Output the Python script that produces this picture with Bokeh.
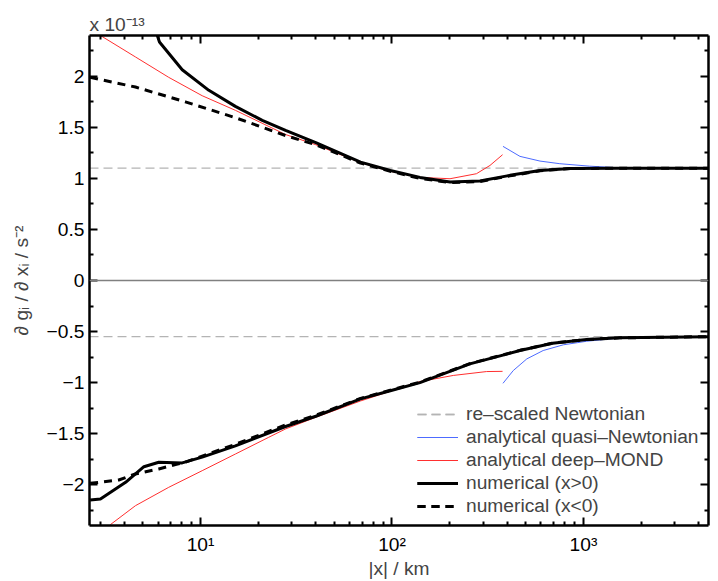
from bokeh.plotting import figure
from bokeh.models import Range1d, FixedTicker, LinearAxis, LogAxis, Legend, LegendItem, Span
from bokeh.embed import file_html
from bokeh.resources import INLINE

# ---------------- data (units of 1e-13 s^-2) ----------------
x_extent = [2.63, 4500]
newton_pos = [1.1, 1.1]
newton_neg = [-0.55, -0.55]

num_pos_x = [5.9, 6.1, 8.02, 11.05, 15.2, 21.0, 27.8, 40, 68.5, 98, 140, 201, 288, 413, 593, 852, 1500, 4500]
num_pos_y = [2.42, 2.336, 2.065, 1.863, 1.706, 1.569, 1.47, 1.35, 1.16, 1.078, 1.01, 0.965, 0.975, 1.03, 1.078, 1.098, 1.10, 1.10]

numneg_pos_x = [2.65, 4.57, 8.33, 15.2, 27.8, 40, 68.5, 98, 140, 201, 288, 413, 593, 852, 1500, 4500]
numneg_pos_y = [1.99, 1.895, 1.75, 1.595, 1.42, 1.33, 1.15, 1.07, 1.0, 0.96, 0.97, 1.025, 1.075, 1.097, 1.10, 1.10]

mond_pos_x = [2.9, 3.0, 4.57, 6.82, 10.2, 15.2, 27.8, 40, 68.5, 98, 140, 201, 276, 325, 378]
mond_pos_y = [2.44, 2.40, 2.19, 1.99, 1.81, 1.667, 1.43, 1.33, 1.155, 1.07, 1.01, 0.997, 1.046, 1.127, 1.232]

qn_pos_x = [380, 466, 593, 753, 1077, 1500, 4500]
qn_pos_y = [1.314, 1.216, 1.17, 1.144, 1.12, 1.105, 1.10]

num_neg_x = [2.65, 3.0, 4.06, 5.06, 6.05, 8.02, 10.2, 15.2, 27.8, 40, 68.5, 98, 140, 255, 466, 690, 1040, 1550, 4500]
num_neg_y = [-2.15, -2.14, -1.977, -1.824, -1.78, -1.787, -1.73, -1.62, -1.43, -1.33, -1.16, -1.08, -1.0, -0.817, -0.686, -0.614, -0.578, -0.562, -0.55]

numneg_neg_x = [2.65, 3.74, 4.57, 6.05, 7.4, 8.33, 10.2, 15.2, 27.8, 40, 68.5, 98, 140, 255, 466, 690, 1040, 1550, 4500]
numneg_neg_y = [-1.987, -1.954, -1.895, -1.846, -1.804, -1.78, -1.72, -1.605, -1.415, -1.32, -1.155, -1.075, -0.995, -0.815, -0.684, -0.613, -0.578, -0.562, -0.55]

mond_neg_x = [3.3, 3.39, 4.57, 6.82, 10.2, 15.2, 22.7, 27.8, 40, 68.5, 140, 209, 312, 378]
mond_neg_y = [-2.42, -2.39, -2.206, -2.026, -1.863, -1.70, -1.536, -1.454, -1.34, -1.18, -0.99, -0.93, -0.892, -0.89]

qn_neg_x = [380, 430, 506, 616, 785, 1040, 1500, 4500]
qn_neg_y = [-1.007, -0.882, -0.768, -0.686, -0.63, -0.595, -0.565, -0.55]

y_ticks = [-2, -1.5, -1, -0.5, 0, 0.5, 1, 1.5, 2]
y_tick_labels = ["\u22122", "\u22121.5", "\u22121", "\u22120.5", "0", "0.5", "1", "1.5", "2"]
y_minor = [-2.25, -1.75, -1.25, -0.75, -0.25, 0.25, 0.75, 1.25, 1.75, 2.25]
x_ticks = [10, 100, 1000]
x_tick_labels = ["10\u00b9", "10\u00b2", "10\u00b3"]
x_minor = [3, 4, 5, 6, 7, 8, 9, 20, 30, 40, 50, 60, 70, 80, 90,
           200, 300, 400, 500, 600, 700, 800, 900, 2000, 3000, 4000]

FONT = "Liberation Sans"
FS = "19.2px"
RED = "#ff2f2f"
BLUE = "#4d6bff"
GRAY = "#b4b4b4"

p = figure(frame_width=619, frame_height=490, x_axis_type="log",
           x_range=Range1d(x_extent[0], x_extent[1]), y_range=Range1d(-2.4, 2.4),
           output_backend="svg", toolbar_location=None,
           min_border_left=89, min_border_right=2, min_border_top=35, min_border_bottom=40)
p.grid.visible = False
p.outline_line_color = None
p.background_fill_color = "white"

p.title.text = "x 10\u207b\u00b9\u00b3"
p.title.align = "left"
p.title.text_font = FONT
p.title.text_font_size = FS
p.title.text_font_style = "normal"
p.title.standoff = 2

xt = FixedTicker(ticks=x_ticks, minor_ticks=x_minor)
yt = FixedTicker(ticks=y_ticks, minor_ticks=y_minor)

def style(ax):
    ax.axis_line_width = 2.5
    ax.axis_line_color = "black"
    ax.major_tick_in = 8
    ax.major_tick_out = 0
    ax.minor_tick_in = 4
    ax.minor_tick_out = 0
    ax.major_tick_line_width = 2
    ax.minor_tick_line_width = 2
    ax.major_label_text_font = FONT
    ax.major_label_text_font_size = FS
    ax.major_label_text_color = "black"
    ax.axis_label_text_font = FONT
    ax.axis_label_text_font_size = FS
    ax.axis_label_text_font_style = "normal"

xa = p.xaxis[0]
xa.ticker = xt
xa.major_label_overrides = dict(zip(x_ticks, x_tick_labels))
xa.axis_label = "|x| / km"
xa.major_label_standoff = 8
xa.axis_label_standoff = 0
style(xa)

ya = p.yaxis[0]
ya.ticker = yt
ya.major_label_overrides = dict(zip(y_ticks, y_tick_labels))
ya.axis_label = "\u2202 g\u1d62 / \u2202 x\u1d62 / s\u207b\u00b2"
ya.major_label_standoff = 5
ya.axis_label_standoff = 12
style(ya)

top = LogAxis(ticker=xt)
style(top)
top.major_label_text_font_size = "1px"
top.major_label_text_alpha = 0
top.major_label_standoff = 0
p.add_layout(top, "above")

right = LinearAxis(ticker=yt)
style(right)
right.major_label_text_font_size = "1px"
right.major_label_text_alpha = 0
right.major_label_standoff = 0
p.add_layout(right, "right")

p.add_layout(Span(location=0, dimension="width", line_color="#808080", line_width=1.5))

r_nw1 = p.line(x_extent, newton_pos, line_color=GRAY, line_width=1.3, line_dash="9 5")
r_nw2 = p.line(x_extent, newton_neg, line_color=GRAY, line_width=1.3, line_dash="9 5")
r_qn1 = p.line(qn_pos_x, qn_pos_y, line_color=BLUE, line_width=1)
r_qn2 = p.line(qn_neg_x, qn_neg_y, line_color=BLUE, line_width=1)
r_md1 = p.line(mond_pos_x, mond_pos_y, line_color=RED, line_width=1)
r_md2 = p.line(mond_neg_x, mond_neg_y, line_color=RED, line_width=1)
r_nn1 = p.line(numneg_pos_x, numneg_pos_y, line_color="black", line_width=3, line_dash="8 6")
r_nn2 = p.line(numneg_neg_x, numneg_neg_y, line_color="black", line_width=3, line_dash="8 6")
r_np1 = p.line(num_pos_x, num_pos_y, line_color="black", line_width=3)
r_np2 = p.line(num_neg_x, num_neg_y, line_color="black", line_width=3)

legend = Legend(items=[
    LegendItem(label="re\u2013scaled Newtonian", renderers=[r_nw1, r_nw2]),
    LegendItem(label="analytical quasi\u2013Newtonian", renderers=[r_qn1, r_qn2]),
    LegendItem(label="analytical deep\u2013MOND", renderers=[r_md1, r_md2]),
    LegendItem(label="numerical (x>0)", renderers=[r_np1, r_np2]),
    LegendItem(label="numerical (x<0)", renderers=[r_nn1, r_nn2]),
], location=(328, 8))
legend.margin = 0
legend.padding = 0
legend.border_line_color = None
legend.background_fill_alpha = 0
legend.glyph_width = 41
legend.glyph_height = 20
legend.label_height = 20
legend.spacing = 1
legend.label_standoff = 8
legend.label_text_font = FONT
legend.label_text_font_size = FS
p.add_layout(legend, "center")

open("out.html", "w").write(file_html(p, INLINE))
